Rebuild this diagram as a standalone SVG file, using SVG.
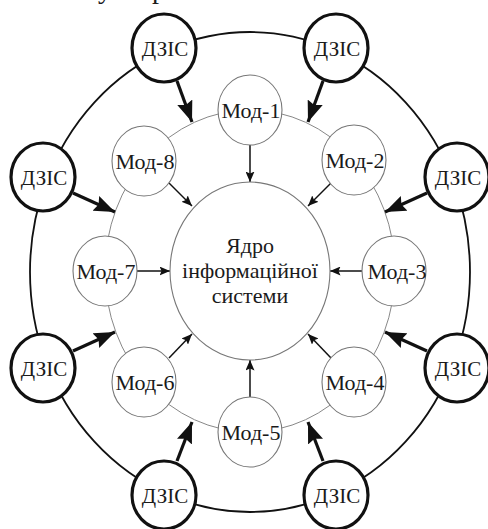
<svg xmlns="http://www.w3.org/2000/svg" width="488" height="529" viewBox="0 0 488 529" font-family="'Liberation Serif', 'Times New Roman', serif">
<defs>
<style>
.ring-outer{fill:none;stroke:#111;stroke-width:1.8}
.ring-mid{fill:none;stroke:#888;stroke-width:1}
.core{fill:#fff;stroke:#777;stroke-width:1.1}
.mod{fill:#fff;stroke:#777;stroke-width:1.1}
.dzis{fill:#fff;stroke:#111;stroke-width:3.2}
text{font-family:'Liberation Serif','Times New Roman',serif}
.t{font-size:22px;fill:#1a1a1a;text-anchor:middle}
.td{font-size:21px;fill:#1a1a1a;text-anchor:middle}
.thick{stroke:#111;stroke-width:3.2;fill:none;marker-end:url(#bigArrow)}
.thin{stroke:#111;stroke-width:1.5;fill:none;marker-end:url(#smallArrow)}
</style>
<marker id="bigArrow" markerUnits="userSpaceOnUse" markerWidth="22" markerHeight="16" refX="21" refY="8" orient="auto">
<path d="M0,0 L21,8 L0,16 L3,8 z" fill="#111"/>
</marker>
<marker id="smallArrow" markerUnits="userSpaceOnUse" markerWidth="11" markerHeight="9" refX="10.5" refY="4.5" orient="auto">
<path d="M0,0 L10.5,4.5 L0,9 L2,4.5 z" fill="#111"/>
</marker>
</defs>
<text class="t" style="font-size:28px;text-anchor:start" x="98" y="-2">у<tspan x="152">р</tspan></text>
<g id="rings">
<ellipse class="ring-outer" cx="250" cy="272" rx="220" ry="240"/>
<ellipse class="ring-mid" cx="250" cy="271" rx="145" ry="161"/>
</g>
<g id="connectors">
<line class="thick" x1="177" y1="81" x2="192" y2="122"/>
<line class="thick" x1="323" y1="81" x2="308" y2="122"/>
<line class="thick" x1="73" y1="193" x2="115" y2="212"/>
<line class="thick" x1="427" y1="193" x2="385" y2="212"/>
<line class="thick" x1="73" y1="351" x2="115" y2="332"/>
<line class="thick" x1="427" y1="351" x2="385" y2="332"/>
<line class="thick" x1="177" y1="461" x2="192" y2="422"/>
<line class="thick" x1="323" y1="461" x2="308" y2="422"/>
<line class="thin" x1="250" y1="145" x2="250" y2="182"/>
<line class="thin" x1="331" y1="183" x2="308" y2="206"/>
<line class="thin" x1="362" y1="271" x2="330" y2="271"/>
<line class="thin" x1="331" y1="358" x2="308" y2="334"/>
<line class="thin" x1="250" y1="397" x2="250" y2="360"/>
<line class="thin" x1="169" y1="358" x2="192" y2="334"/>
<line class="thin" x1="137" y1="271" x2="170" y2="271"/>
<line class="thin" x1="169" y1="183" x2="192" y2="206"/>
</g>
<g id="core">
<ellipse class="core" cx="250" cy="271" rx="80" ry="89"/>
<text class="t" x="250" y="253">Ядро</text>
<text class="t" x="250" y="278">інформаційної</text>
<text class="t" x="250" y="303">системи</text>
</g>
<g id="mod1"><ellipse class="mod" cx="250" cy="110" rx="32" ry="35"/><text class="t" x="251" y="118">Мод-1</text></g>
<g id="mod2"><ellipse class="mod" cx="354" cy="160" rx="32" ry="35"/><text class="t" x="355" y="168">Мод-2</text></g>
<g id="mod3"><ellipse class="mod" cx="394" cy="271" rx="32" ry="35"/><text class="t" x="397" y="279">Мод-3</text></g>
<g id="mod4"><ellipse class="mod" cx="354" cy="382" rx="32" ry="35"/><text class="t" x="355" y="390">Мод-4</text></g>
<g id="mod5"><ellipse class="mod" cx="250" cy="432" rx="32" ry="35"/><text class="t" x="251" y="440">Мод-5</text></g>
<g id="mod6"><ellipse class="mod" cx="144" cy="382" rx="32" ry="35"/><text class="t" x="145" y="390">Мод-6</text></g>
<g id="mod7"><ellipse class="mod" cx="105" cy="271" rx="32" ry="35"/><text class="t" x="106" y="279">Мод-7</text></g>
<g id="mod8"><ellipse class="mod" cx="144" cy="161" rx="32" ry="35"/><text class="t" x="145" y="169">Мод-8</text></g>
<g id="dzis-tl"><ellipse class="dzis" cx="164" cy="48" rx="32" ry="34"/><text class="td" x="165" y="56">ДЗІС</text></g>
<g id="dzis-tr"><ellipse class="dzis" cx="336" cy="48" rx="32" ry="34"/><text class="td" x="337" y="56">ДЗІС</text></g>
<g id="dzis-lu"><ellipse class="dzis" cx="43" cy="177" rx="32" ry="34"/><text class="td" x="44" y="185">ДЗІС</text></g>
<g id="dzis-ru"><ellipse class="dzis" cx="457" cy="177" rx="32" ry="34"/><text class="td" x="458" y="185">ДЗІС</text></g>
<g id="dzis-ll"><ellipse class="dzis" cx="43" cy="368" rx="32" ry="34"/><text class="td" x="44" y="376">ДЗІС</text></g>
<g id="dzis-rl"><ellipse class="dzis" cx="457" cy="368" rx="32" ry="34"/><text class="td" x="458" y="376">ДЗІС</text></g>
<g id="dzis-bl"><ellipse class="dzis" cx="164" cy="495" rx="32" ry="34"/><text class="td" x="165" y="503">ДЗІС</text></g>
<g id="dzis-br"><ellipse class="dzis" cx="336" cy="495" rx="32" ry="34"/><text class="td" x="337" y="503">ДЗІС</text></g>
</svg>
